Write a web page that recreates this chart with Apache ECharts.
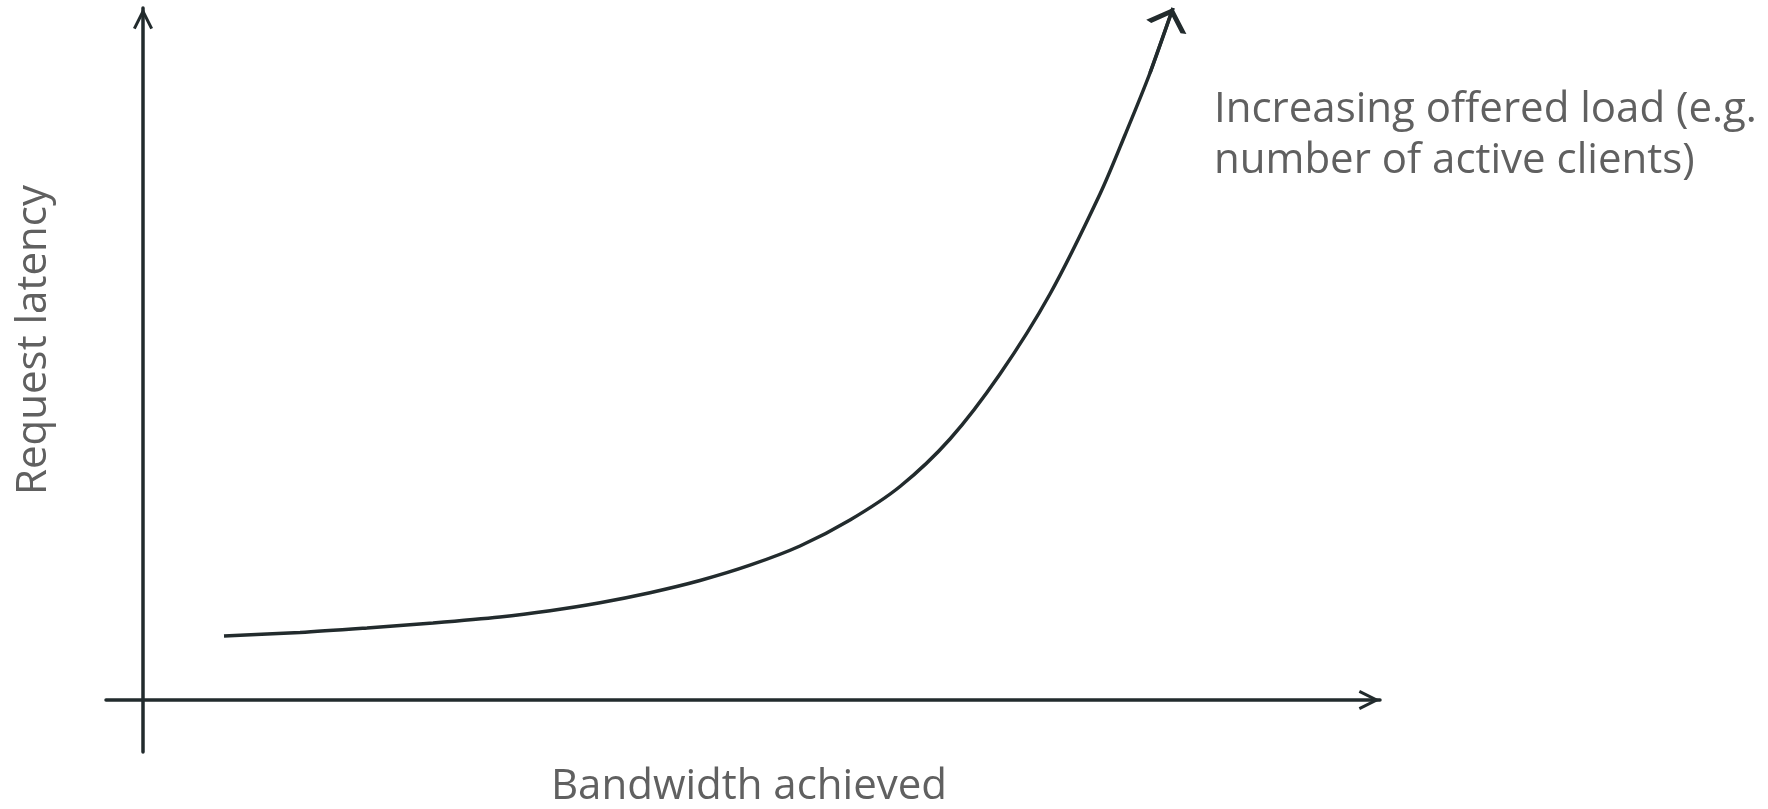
<!DOCTYPE html>
<html>
<head>
<meta charset="utf-8">
<script src="https://cdn.jsdelivr.net/npm/echarts@6/dist/echarts.min.js"></script>
<style>
  html, body { margin: 0; padding: 0; background: #ffffff; }
  #chart { width: 1768px; height: 809px; }
</style>
</head>
<body>
<div id="chart"></div>
<script>
// Conceptual curve: bandwidth achieved (x) vs request latency (y), arbitrary units
const bandwidth = [8.1, 15.7, 22.4, 29.0, 35.7, 40.7, 45.7, 50.7, 55.7, 60.7, 65.7, 70.7, 75.7, 80.7, 85.7, 90.7, 95.7, 98.2, 100.7, 103.0];
const latency   = [6.4, 6.75, 7.2, 7.7, 8.3, 8.93, 9.73, 10.73, 11.95, 13.48, 15.4, 18.0, 21.35, 26.1, 32.6, 40.6, 50.6, 56.5, 62.7, 69.2];
const xAxisName = 'Bandwidth achieved';
const yAxisName = 'Request latency';
const curveLabel = ['Increasing offered load (e.g.', 'number of active clients)'];

const INK = '#222b2d';
const TEXT = '#606060';
const FONT = '"Open Sans"';
const FS = 42;
// Open chevron pointing up; a degenerate subpath puts the tip at the symbol centre
const CHEVRON = 'path://M10,-21.3L10,-21.3Z M10,0L20,20L17.3,21.3L10,6.7L2.7,21.3L0,20Z';

const curve = bandwidth.map((x, i) => [x, latency[i]]);
const n = curve.length;

const chart = echarts.init(document.getElementById('chart'), null, { renderer: 'canvas' });
chart.setOption({
  backgroundColor: '#ffffff',
  animation: false,
  grid: { left: 106, right: 1768 - 1380, top: 8, bottom: 809 - 752, containLabel: false, outerBoundsMode: 'none' },
  xAxis: {
    type: 'value', min: -3.7, max: 123.7,
    name: xAxisName, nameLocation: 'middle', nameGap: 14, nameMoveOverlap: false,
    nameTextStyle: { color: TEXT, fontFamily: FONT, fontSize: FS, padding: [0, 0, 0, 12] },
    axisLine: { onZero: true, symbol: ['none', CHEVRON], symbolSize: [20, 42.6], lineStyle: { color: INK, width: 3.5 } },
    axisTick: { show: false }, axisLabel: { show: false }, splitLine: { show: false }
  },
  yAxis: {
    type: 'value', min: -5.2, max: 69.2,
    name: yAxisName, nameLocation: 'middle', nameGap: 51, nameRotate: 90, nameMoveOverlap: false,
    nameTextStyle: { color: TEXT, fontFamily: FONT, fontSize: FS, padding: [0, 0, 0, 80] },
    axisLine: { onZero: true, symbol: ['none', CHEVRON], symbolSize: [20, 42.6], lineStyle: { color: INK, width: 3.5 } },
    axisTick: { show: false }, axisLabel: { show: false }, splitLine: { show: false }
  },
  graphic: [{
    type: 'text', left: 1214, top: 85,
    style: { text: curveLabel.join('\n'), fill: TEXT, font: FS + 'px ' + FONT, lineHeight: 51 }
  }],
  series: [
    {
      type: 'line', data: curve, smooth: 0.3, showSymbol: false, clip: false,
      lineStyle: { color: INK, width: 3.5 }, silent: true
    },
    {
      type: 'lines', coordinateSystem: 'cartesian2d', silent: true,
      symbol: ['none', CHEVRON], symbolSize: [20, 42.6],
      lineStyle: { color: INK, width: 3.5, opacity: 1 },
      data: [{ coords: [curve[n - 2], curve[n - 1]] }]
    }
  ]
});
</script>
</body>
</html>
